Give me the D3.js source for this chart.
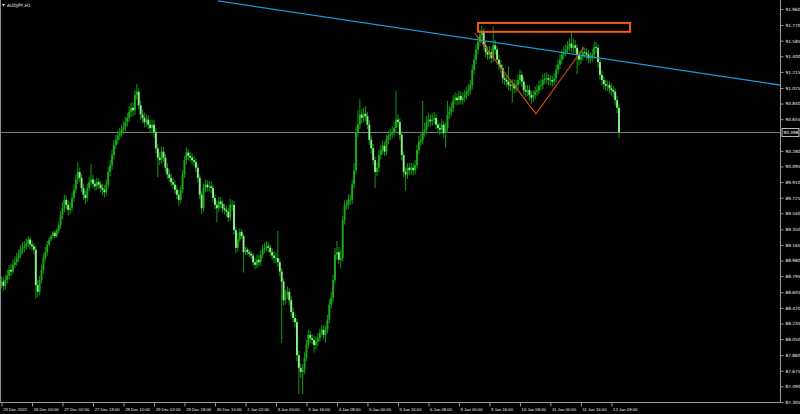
<!DOCTYPE html>
<html><head><meta charset="utf-8">
<script src="https://cdn.jsdelivr.net/npm/d3@7"></script>
<style>html,body{margin:0;padding:0;background:#000;overflow:hidden}svg{display:block}</style>
</head><body><svg id="c" width="800" height="414"></svg>
<script>
const symbolTitle = "AUDJPY,H1";
const firstOpen = 88.70;
const closes = [
88.73,88.68,88.75,88.80,88.87,88.85,88.93,88.96,89.01,89.05,
89.11,89.13,89.15,89.18,89.23,89.17,89.15,89.11,88.69,88.61,
88.75,88.87,89.01,89.08,89.17,89.23,89.27,89.31,89.27,89.34,
89.40,89.52,89.60,89.70,89.64,89.58,89.60,89.72,89.82,89.94,
90.03,89.96,89.84,89.76,89.72,89.84,89.91,89.94,89.89,89.86,
89.91,89.88,89.84,89.82,89.79,89.88,90.03,90.11,90.23,90.35,
90.41,90.46,90.49,90.53,90.56,90.62,90.67,90.74,90.79,90.76,
90.94,90.98,90.82,90.71,90.67,90.62,90.65,90.59,90.55,90.59,
90.50,90.31,90.20,90.17,90.27,90.20,90.08,90.00,89.96,89.91,
89.88,89.82,89.76,89.70,89.82,90.00,90.17,90.26,90.22,90.20,
90.17,90.15,90.08,89.96,89.76,89.60,89.84,89.88,89.85,89.86,
89.84,89.72,89.64,89.60,89.68,89.65,89.60,89.58,89.56,89.49,
89.64,89.64,89.34,89.13,89.23,89.32,89.27,89.08,89.11,89.08,
89.06,89.04,88.96,88.93,88.99,88.96,89.05,89.11,89.13,89.15,
89.13,89.08,89.04,89.01,89.01,88.96,88.85,88.73,88.51,88.57,
88.61,88.51,88.37,88.30,88.25,87.86,87.71,87.66,87.69,87.83,
87.98,88.10,88.06,88.04,87.98,88.02,88.06,88.12,88.16,88.10,
88.16,88.28,88.46,88.54,88.75,89.05,89.08,88.99,89.01,89.46,
89.64,89.64,89.70,89.70,89.88,90.05,90.50,90.59,90.71,90.67,
90.72,90.69,90.59,90.41,90.31,90.17,90.03,90.08,90.23,90.29,
90.34,90.27,90.41,90.46,90.48,90.50,90.55,90.65,90.62,90.47,
90.23,90.03,90.00,90.08,90.05,90.08,90.05,90.11,90.29,90.39,
90.41,90.50,90.53,90.62,90.65,90.63,90.65,90.67,90.59,90.55,
90.53,90.59,90.49,90.55,90.71,90.74,90.79,90.88,90.91,90.88,
90.93,90.88,90.91,90.94,90.98,91.00,91.06,91.24,91.36,91.48,
91.57,91.65,91.69,91.53,91.45,91.42,91.45,91.38,91.53,91.48,
91.36,91.30,91.26,91.14,91.12,91.10,91.06,91.05,91.07,91.02,
91.06,91.12,91.18,91.10,91.00,90.98,91.00,90.94,90.91,90.94,
90.98,91.00,91.05,91.06,91.12,91.14,91.14,91.12,91.12,91.10,
91.14,91.24,91.30,91.36,91.42,91.45,91.48,91.52,91.55,91.50,
91.53,91.50,91.42,91.36,91.40,91.45,91.44,91.42,91.38,91.38,
91.42,91.51,91.50,91.33,91.18,91.12,91.07,91.05,91.06,91.02,
91.00,90.98,90.88,90.79,90.498];
const highs = [
88.78,88.77,88.80,88.86,88.92,88.93,88.98,89.02,89.06,89.10,
89.16,89.19,89.20,89.23,89.26,89.25,89.21,89.18,89.14,88.74,
88.79,88.92,89.05,89.13,89.20,89.25,89.28,89.32,89.32,89.35,
89.43,89.56,89.66,89.75,89.74,89.68,89.66,89.77,89.87,89.99,
90.14,90.07,89.99,89.88,89.80,89.88,89.96,90.11,89.98,89.93,
89.95,89.94,89.91,89.88,89.86,89.93,90.08,90.16,90.28,90.40,
90.46,90.51,90.54,90.58,90.62,90.67,90.72,90.80,90.84,90.84,
90.99,91.06,91.01,90.86,90.76,90.72,90.70,90.69,90.63,90.64,
90.63,90.54,90.35,90.25,90.32,90.31,90.23,90.12,90.05,90.00,
89.95,89.92,89.86,89.80,89.86,90.04,90.21,90.31,90.29,90.26,
90.24,90.21,90.18,90.11,89.99,89.79,89.88,89.93,89.92,89.91,
89.90,89.87,89.75,89.68,89.72,89.72,89.69,89.64,89.62,89.59,
89.70,89.69,89.67,89.37,89.30,89.35,89.34,89.28,89.13,89.12,
89.10,89.08,89.06,89.00,89.04,89.03,89.09,89.16,89.18,89.20,
89.19,89.16,89.11,89.08,89.06,89.32,88.99,88.88,88.76,88.62,
88.66,88.64,88.55,88.41,88.34,88.28,87.90,87.75,87.74,87.88,
88.03,88.15,88.14,88.10,88.08,88.07,88.11,88.16,88.21,88.20,
88.20,88.33,88.51,88.60,88.80,89.12,89.20,89.13,89.10,89.50,
89.68,89.69,89.75,89.75,89.92,90.12,90.56,90.75,90.88,90.76,
90.78,90.80,90.73,90.63,90.45,90.35,90.20,90.13,90.28,90.34,
90.39,90.38,90.46,90.51,90.53,90.56,90.61,90.98,90.70,90.66,
90.50,90.26,90.07,90.12,90.12,90.13,90.12,90.16,90.33,90.44,
90.47,90.86,90.60,90.68,90.72,90.70,90.71,90.73,90.71,90.63,
90.60,90.65,90.62,90.60,90.86,90.80,90.84,90.93,90.96,90.95,
90.98,90.97,90.96,90.99,91.03,91.06,91.11,91.29,91.41,91.53,
91.62,91.70,91.75,91.72,91.57,91.50,91.51,91.49,91.74,91.58,
91.51,91.40,91.34,91.29,91.18,91.17,91.27,91.11,91.12,91.11,
91.11,91.17,91.23,91.21,91.14,91.05,91.05,91.04,90.98,90.99,
91.03,91.05,91.10,91.12,91.17,91.19,91.20,91.18,91.17,91.16,
91.19,91.29,91.35,91.41,91.47,91.51,91.53,91.57,91.60,91.68,
91.60,91.58,91.53,91.46,91.45,91.50,91.49,91.48,91.46,91.43,
91.47,91.56,91.56,91.53,91.36,91.22,91.15,91.11,91.10,91.09,
91.07,91.04,91.01,90.92,90.82];
const lows = [
88.66,88.63,88.65,88.72,88.77,88.81,88.83,88.90,88.93,88.98,
89.02,89.07,89.09,89.12,89.15,89.13,89.11,89.07,88.54,88.56,
88.58,88.72,88.84,88.98,89.05,89.16,89.22,89.26,89.26,89.26,
89.32,89.37,89.48,89.56,89.60,89.53,89.54,89.57,89.69,89.79,
89.90,89.92,89.80,89.71,89.66,89.69,89.81,89.88,89.85,89.82,
89.83,89.84,89.80,89.77,89.74,89.76,89.85,89.99,90.07,90.19,
90.31,90.37,90.42,90.45,90.49,90.52,90.58,90.63,90.70,90.70,
90.72,90.90,90.78,90.66,90.62,90.57,90.58,90.55,90.51,90.52,
90.45,90.26,89.98,90.12,90.14,90.16,90.04,89.96,89.92,89.87,
89.84,89.78,89.72,89.64,89.67,89.79,89.97,90.13,90.18,90.16,
90.13,90.11,90.04,89.92,89.72,89.54,89.57,89.80,89.81,89.81,
89.79,89.68,89.60,89.45,89.57,89.61,89.56,89.54,89.51,89.45,
89.46,89.58,89.30,89.08,89.10,89.21,89.25,88.85,89.06,89.06,
89.03,89.01,88.93,88.89,88.90,88.92,88.93,89.02,89.08,89.10,
89.09,89.04,89.00,88.97,88.96,88.92,88.81,88.02,88.46,88.47,
88.54,88.46,88.33,88.26,88.20,87.80,87.41,87.60,87.41,87.65,
87.80,87.95,88.02,88.00,87.90,87.94,87.98,88.03,88.09,88.06,
88.02,88.13,88.25,88.42,88.50,88.72,89.00,88.95,88.90,88.98,
89.42,89.59,89.60,89.65,89.66,89.85,90.02,90.46,90.55,90.62,
90.63,90.64,90.55,90.36,90.26,90.12,89.85,89.99,90.04,90.19,
90.25,90.23,90.24,90.37,90.42,90.44,90.46,90.51,90.57,90.42,
90.18,89.98,89.82,89.96,90.01,90.01,90.00,90.01,90.08,90.25,
90.35,90.37,90.46,90.49,90.58,90.58,90.59,90.61,90.55,90.50,
90.48,90.49,90.44,90.33,90.52,90.67,90.70,90.75,90.84,90.83,
90.84,90.84,90.84,90.87,90.90,90.94,90.96,91.02,91.20,91.32,
91.44,91.53,91.60,91.49,91.40,91.37,91.38,91.33,91.34,91.43,
91.31,91.25,91.21,91.09,91.07,91.05,91.01,91.00,90.86,90.97,
90.98,91.02,91.08,91.05,90.95,90.93,90.94,90.89,90.85,90.87,
90.90,90.94,90.96,91.01,91.02,91.08,91.09,91.07,91.07,91.05,
91.06,91.10,91.20,91.26,91.32,91.38,91.41,91.44,91.47,91.46,
91.45,91.45,91.20,91.31,91.32,91.36,91.39,91.37,91.33,91.33,
91.34,91.38,91.45,91.28,91.13,91.07,91.02,91.00,91.00,90.97,
90.95,90.92,90.83,90.74,90.44];
const timeLabels = ["23 Dec 2022","26 Dec 00:00","27 Dec 02:00","27 Dec 18:00","28 Dec 10:00","29 Dec 02:00","29 Dec 18:00","30 Dec 10:00","2 Jan 02:00","3 Jan 00:00","3 Jan 16:00","4 Jan 08:00","5 Jan 00:00","5 Jan 16:00","6 Jan 08:00","9 Jan 00:00","9 Jan 16:00","10 Jan 08:00","11 Jan 00:00","11 Jan 16:00","12 Jan 08:00"];
const timeLabelBars = [0,16,32,48,64,80,96,112,128,144,160,176,192,208,224,240,256,272,288,304,320];
const priceTicks = [91.960,91.770,91.585,91.400,91.215,91.025,90.840,90.655,90.280,90.095,89.910,89.725,89.540,89.350,89.165,88.980,88.795,88.605,88.420,88.235,88.050,87.860,87.675,87.490,87.305];
const currentPrice = 90.498;
// drawn objects, anchored in (bar index, price)
const trendLine = [[113.6, 92.055], [408.4, 91.06]];
const vPattern = [[248.4, 91.673], [280.4, 90.717], [305.6, 91.507]];
const zoneRect = {bar0: 250, bar1: 329.8, pTop: 91.795, pBot: 91.69};

const W = 800, H = 414, plotR = 780, plotB = 402;
const svg = d3.select("#c");
svg.append("rect").attr("width", W).attr("height", H).attr("fill", "#000");

const x = d3.scaleLinear().domain([0, 320]).range([1.5, 611.4]);
const y = d3.scaleLinear().domain([87.305, 91.960]).range([402, 9]);

svg.append("defs").append("clipPath").attr("id", "plot")
  .append("rect").attr("x", 0).attr("y", 0).attr("width", plotR).attr("height", plotB);

const data = closes.map((c, i) => ({i, o: i ? closes[i - 1] : firstOpen, c, h: highs[i], l: lows[i]}));

const g = svg.append("g").attr("clip-path", "url(#plot)");

// current price line
g.append("line").attr("x1", 0).attr("x2", plotR)
  .attr("y1", Math.round(y(currentPrice)) + 0.5).attr("y2", Math.round(y(currentPrice)) + 0.5)
  .attr("stroke", "#7a7a7a").attr("stroke-width", 1);

// candles
const cg = g.append("g");
cg.selectAll("line.w").data(data).join("line").attr("class", "w")
  .attr("x1", d => x(d.i)).attr("x2", d => x(d.i))
  .attr("y1", d => y(d.h) - 1).attr("y2", d => y(d.l) + 1)
  .attr("stroke", "#108c10").attr("stroke-width", 1.1);
cg.selectAll("rect.b").data(data).join("rect").attr("class", "b")
  .attr("x", d => x(d.i) - 0.95).attr("width", 1.9)
  .attr("y", d => y(Math.max(d.o, d.c)))
  .attr("height", d => Math.max(0.9, Math.abs(y(d.o) - y(d.c))))
  .attr("fill", d => d.c < d.o ? "#8cf08c" : "#1ea81e");

// trend line
g.append("line")
  .attr("x1", x(trendLine[0][0])).attr("y1", y(trendLine[0][1]))
  .attr("x2", x(trendLine[1][0])).attr("y2", y(trendLine[1][1]))
  .attr("stroke", "#1a9ad6").attr("stroke-width", 1.3);

// V pattern
g.append("path")
  .attr("d", d3.line().x(d => x(d[0])).y(d => y(d[1]))(vPattern))
  .attr("fill", "none").attr("stroke", "#dc4a12").attr("stroke-width", 1.1);

// rectangle zone
g.append("rect")
  .attr("x", x(zoneRect.bar0)).attr("y", y(zoneRect.pTop))
  .attr("width", x(zoneRect.bar1) - x(zoneRect.bar0))
  .attr("height", y(zoneRect.pBot) - y(zoneRect.pTop))
  .attr("fill", "none").attr("stroke", "#f05a1a").attr("stroke-width", 2);

// frame
svg.append("line").attr("x1", 0.5).attr("x2", 0.5).attr("y1", 0).attr("y2", plotB).attr("stroke", "#8a8a8a");
svg.append("line").attr("x1", plotR + 0.5).attr("x2", plotR + 0.5).attr("y1", 0).attr("y2", plotB + 0.5).attr("stroke", "#9a9a9a");
svg.append("line").attr("x1", 0).attr("x2", plotR + 1).attr("y1", plotB + 0.5).attr("y2", plotB + 0.5).attr("stroke", "#9a9a9a");

const fontWide = "'DejaVu Sans', sans-serif";
const fontNarrow = "'Liberation Sans', Arial, sans-serif";

// right axis
const ya = svg.append("g").attr("transform", `translate(${plotR + 0.5},0)`)
  .call(d3.axisRight(y).tickValues(priceTicks).tickSize(3).tickPadding(2).tickFormat(d3.format(".3f")));
ya.select(".domain").remove();
ya.selectAll(".tick line").attr("stroke", "#9a9a9a");
ya.selectAll(".tick text").attr("fill", "#f0f0f0").attr("font-size", "4.3px").attr("font-family", fontWide);

// bottom axis
const xa = svg.append("g").attr("transform", `translate(0,${plotB + 0.5})`)
  .call(d3.axisBottom(x).tickValues(timeLabelBars).tickSize(4).tickPadding(2)
    .tickFormat((d, k) => timeLabels[k]));
xa.select(".domain").remove();
xa.selectAll(".tick line").attr("stroke", "#9a9a9a");
xa.selectAll(".tick text").attr("fill", "#f0f0f0").attr("font-size", "4.2px")
  .attr("font-family", fontNarrow).attr("text-anchor", "start").attr("dx", "1.2");

// current price label
const cpY = Math.round(y(currentPrice)) + 0.5;
svg.append("rect").attr("x", plotR + 2).attr("y", cpY - 4).attr("width", 17).attr("height", 8)
  .attr("fill", "#000").attr("stroke", "#e6e6e6").attr("stroke-width", 0.8);
svg.append("text").attr("x", plotR + 3.5).attr("y", cpY + 1.6).text(d3.format(".3f")(currentPrice))
  .attr("fill", "#fff").attr("font-size", "4.3px").attr("font-family", fontWide);

// title
svg.append("path").attr("d", "M2,4 L5,4 L3.5,6.5 Z").attr("fill", "#e6e6e6");
svg.append("text").attr("x", 7).attr("y", 6.6).text(symbolTitle)
  .attr("fill", "#f0f0f0").attr("font-size", "4.4px").attr("font-family", fontWide);
</script></body></html>
